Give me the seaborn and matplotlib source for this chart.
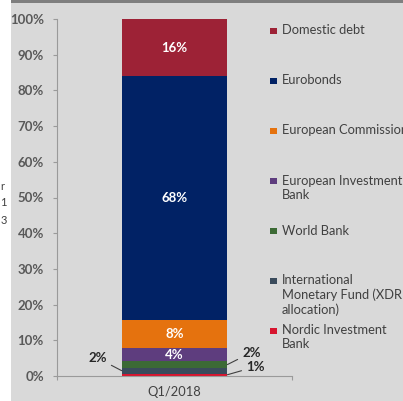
import matplotlib
matplotlib.use("Agg")
import matplotlib.pyplot as plt
from matplotlib.patches import Rectangle
import seaborn as sns

# Debt structure by creditor, share of total (%)
period = "Q1/2018"
creditors = [
    "Nordic Investment Bank",
    "International Monetary Fund (XDR allocation)",
    "World Bank",
    "European Investment Bank",
    "European Commission",
    "Eurobonds",
    "Domestic debt",
]
shares = [0.7, 1.6, 1.8, 3.8, 7.7, 68.3, 16.1]
colors = ["#d7152f", "#3a4b5c", "#3c6a35", "#5e3d7e", "#e5720e", "#012265", "#9d2236"]
legend_labels = [
    "Nordic Investment\nBank",
    "International\nMonetary Fund (XDR\nallocation)",
    "World Bank",
    "European Investment\nBank",
    "European Commission",
    "Eurobonds",
    "Domestic debt",
]
yticks = [0, 10, 20, 30, 40, 50, 60, 70, 80, 90, 100]
ytick_labels = [f"{t}%" for t in yticks]

sns.set_style("white")
plt.rcParams["font.family"] = ["Lato", "DejaVu Sans"]

W, H = 403, 401
BG = "#d9d9d9"
TXT = "#404040"
AX = "#9a9a9a"
FS = 9.3

fig = plt.figure(figsize=(W / 100, H / 100), dpi=100, facecolor=BG)

# frame decorations
fig.patches.append(Rectangle((0, 0), 11 / W, 1, transform=fig.transFigure,
                             facecolor="white", edgecolor="none", zorder=0))
fig.patches.append(Rectangle((11 / W, 1 - 3 / H), 1, 3 / H, transform=fig.transFigure,
                             facecolor="#7f7f7f", edgecolor="none", zorder=0))
for ch, yp in [("r", 186), ("1", 203), ("3", 220)]:
    fig.text(0.5 / W, 1 - yp / H, ch, ha="left", va="center", fontsize=8, color=TXT)

ax = fig.add_axes([57 / W, 25 / H, 235 / W, 357 / H])
ax.set_facecolor("none")

bar_width = 0.45
bottom = 0.0
mids = []
for name, val, col in zip(creditors, shares, colors):
    sns.barplot(x=[period], y=[val], bottom=bottom, color=col, saturation=1,
                width=bar_width, errorbar=None, ax=ax, linewidth=0)
    mids.append(bottom + val / 2)
    bottom += val

ax.set_xlim(-0.5, 0.5)
ax.set_ylim(0, 100)
ax.set_yticks(yticks)
ax.set_yticklabels(ytick_labels, fontweight="bold", fontsize=9.5, color="#595959")
ax.set_xticks([0])
ax.set_xticklabels([period], fontsize=FS, color=TXT)
ax.set_xticks([-0.5, 0.5], minor=True)
ax.tick_params(axis="y", length=3, width=0.8, color=AX, pad=6.5, left=True)
ax.tick_params(axis="x", which="major", length=0, pad=7.5)
ax.tick_params(axis="x", which="minor", length=3, width=0.8, color=AX, bottom=True)
ax.set_xlabel("")
ax.set_ylabel("")
for s in ["top", "right"]:
    ax.spines[s].set_visible(False)
for s in ["left", "bottom"]:
    ax.spines[s].set_color(AX)
    ax.spines[s].set_linewidth(0.8)

# value labels inside the large segments
for i in [3, 4, 5, 6]:
    ax.text(0, mids[i], f"{shares[i]:.0f}%", ha="center", va="center",
            color="white", fontweight="bold", fontsize=9.5)

# callouts for the thin segments
callouts = [(1, -1, (-24, 12.5)), (2, 1, (24, 12)), (0, 1, (28, 8))]
for i, side, off in callouts:
    ax.annotate(f"{shares[i]:.0f}%", xy=(side * bar_width / 2, mids[i]),
                xytext=off, textcoords="offset pixels", ha="center", va="center",
                fontsize=9.5, fontweight="bold", color="#262626",
                arrowprops=dict(arrowstyle="-", color="#404040", lw=0.8,
                                shrinkA=1, shrinkB=0))

# legend, top entry first
for k, idx in enumerate(reversed(range(len(creditors)))):
    yp = 31 + 50 * k
    fig.patches.append(Rectangle((270 / W, 1 - (yp + 3) / H), 7 / W, 6 / H,
                                 transform=fig.transFigure, facecolor=colors[idx],
                                 edgecolor="none"))
    fig.text(282 / W, 1 - (yp - 6.5) / H, legend_labels[idx], ha="left", va="top",
             fontsize=FS, color=TXT, linespacing=1.2)

fig.savefig("out.png", dpi=100, facecolor=BG)
